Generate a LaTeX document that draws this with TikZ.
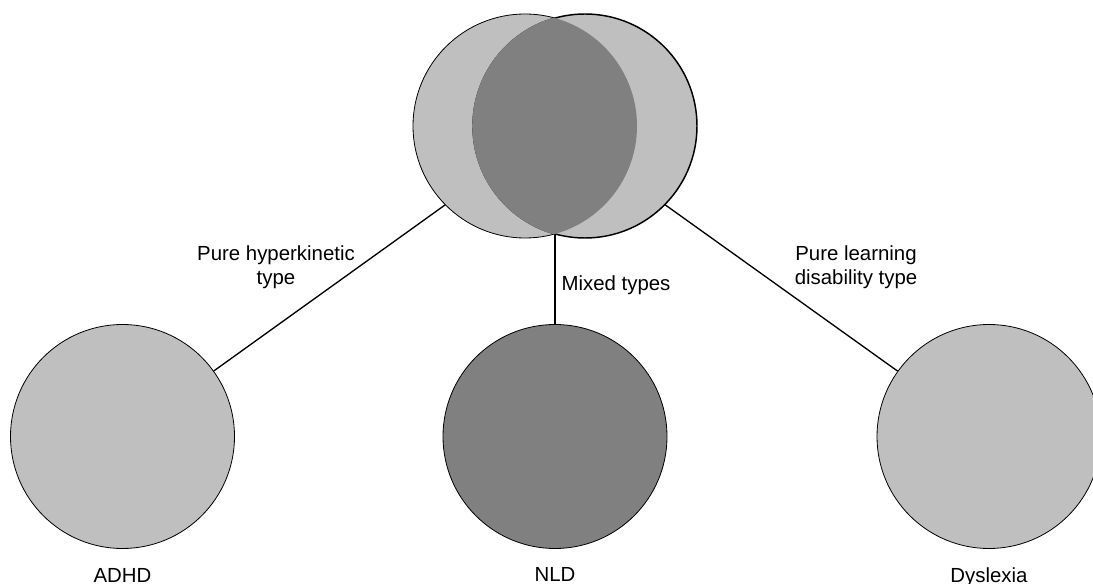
\documentclass[tikz,border=0pt]{standalone}
\usepackage{fontspec}
\setmainfont{Liberation Sans}
\usetikzlibrary{positioning,backgrounds}
\colorlet{lightfill}{black!25}
\colorlet{darkfill}{black!50}

\begin{document}
\begin{tikzpicture}[x=0.75pt,y=-0.75pt,
                    every node/.style={font=\fontsize{15.3}{18}\selectfont},
                    disc/.style={circle,draw,line width=0.6pt,fill=lightfill,
                                 minimum size=168pt,inner sep=0pt},
                    word/.style={inner sep=0pt,align=center},
                    link/.style={line width=1pt}]

  \useasboundingbox (0,0) rectangle (1093,584);

  % overlapping sets
  \node[disc]                  (setA) at (525,126) {};
  \node[disc,line width=1.1pt] (setB) at (585,126) {};
  \begin{scope}
    \clip (setA.center) circle (84pt);
    \fill[darkfill] (setB.center) circle (84.6pt);
  \end{scope}
  \coordinate (mid) at (555,126);

  % subtypes
  \node[disc]               (adhd) at (122.5,436.5) {};
  \node[disc,fill=darkfill] (nld)  at (555,436.5)   {};
  \node[disc]               (dys)  at (989,436.5)   {};

  \node[word] (adhdname) [below=14.5pt of adhd] {ADHD};
  \node[word] (nldname)  [below=13.5pt of nld]  {NLD};
  \node[word] (dysname)  [below=14.25pt of dys] {Dyslexia};

  \node[word,anchor=north] (hyper) at (276,245) {Pure hyperkinetic\\type};
  \node[word,anchor=north] (mixed) at (616,275) {Mixed types};
  \node[word,anchor=north] (learn) at (856,245) {Pure learning\\disability type};

  \begin{scope}[on background layer]
    \path[link] (mid) edge (adhd)
                      edge (nld)
                      edge (dys);
  \end{scope}
\end{tikzpicture}
\end{document}
